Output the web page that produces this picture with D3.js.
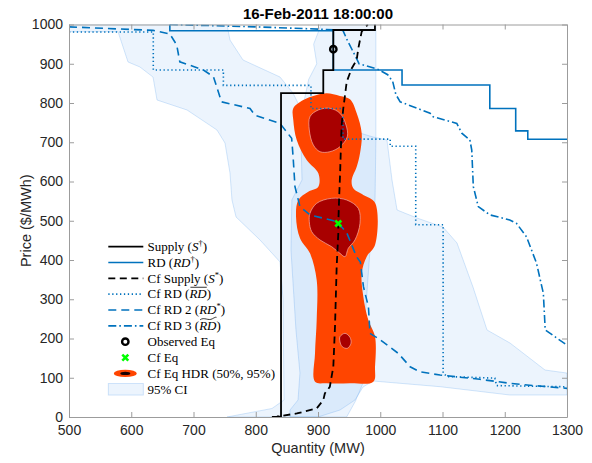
<!DOCTYPE html>
<html><head><meta charset="utf-8">
<script src="https://cdn.jsdelivr.net/npm/d3@7"></script>
<style>body{margin:0;background:#fff}</style>
</head><body>
<svg id="c" width="592" height="463"></svg>
<script>
// ---------------- DATA ----------------
const title = "16-Feb-2011 18:00:00";
const xLabel = "Quantity (MW)";
const yLabel = "Price ($/MWh)";
const xTicks = [500, 600, 700, 800, 900, 1000, 1100, 1200, 1300];
const yTicks = [0, 100, 200, 300, 400, 500, 600, 700, 800, 900, 1000];

// Supply (S†)
const supplyQ = [834, 840.6, 840.6, 908.5, 908.5, 924.6, 924.6, 991.5, 991.5];
const supplyP = [1, 1, 825, 825, 884, 884, 986, 986, 1000];
// RD (RD†)
const rdQ = [662, 662, 924.6, 924.6, 1035, 1035, 1176, 1176, 1217.6, 1217.6, 1237, 1237, 1300];
const rdP = [1000, 984, 984, 884, 884, 846, 846, 786, 786, 729, 729, 707.5, 707.5];
// Cf Supply (S*)
const cfSupplyQ = [826, 834, 866, 898, 908.5, 911, 919, 924.6, 927.3, 930, 932.6, 932.6, 934, 935.5, 936.4, 938, 940.6, 943.4, 946.1, 954.1, 962.2, 964.7, 970.2, 980];
const cfSupplyP = [0, 1, 9, 22, 43, 60, 77, 128, 230, 383, 468, 493, 560, 620, 667, 744, 786, 820, 854, 888, 910, 939, 982, 1000];
// Cf RD (RD bar)
const cfRdQ = [500, 635.4, 635.4, 748, 748, 888.7, 888.7, 940, 940, 1016, 1016, 1057, 1057, 1101, 1101, 1108, 1184, 1187, 1300];
const cfRdP = [981, 981, 884, 884, 845, 845, 786, 786, 708, 708, 690, 690, 490, 490, 111, 103, 99, 80, 77];
// Cf RD 2 (RD*)
const cfRd2Q = [500, 635, 662, 673, 678, 716, 732, 745, 790.8, 798.8, 839, 857.7, 860, 863, 871, 887, 930, 946, 962, 968, 973, 981, 983.5, 997, 1029, 1048, 1064, 1096, 1160, 1208, 1240, 1300];
const cfRd2P = [994, 985, 976, 948, 905, 884, 867, 803, 786, 769, 748, 710, 663, 587, 536, 515, 498, 470, 408, 395, 332, 281, 213, 200, 162, 128, 115, 107, 96, 86, 81, 73];
// Cf RD 3 (RD tilde)
const cfRd3Q = [662, 800, 905, 940, 947, 955, 963, 966, 996, 1012, 1020, 1025, 1032, 1080, 1085, 1123, 1131, 1144, 1147, 1149.5, 1157.5, 1176, 1208, 1219, 1235, 1251, 1262, 1265, 1273, 1300];
const cfRd3P = [1000, 994, 988, 985, 960, 935, 910, 900, 886, 872, 855, 822, 803, 774, 765, 748, 723, 706, 680, 587, 536, 515, 502, 493, 459, 392, 315, 222, 213, 183];
// Equilibria
const obsEqQ = [924.6], obsEqP = [937];
const cfEqQ = [932.6], cfEqP = [493];
// HDR 95% region outline
const hdr95Q = [876.4, 897.9, 914, 935.3, 951.4, 962.2, 970.2, 967.5, 962.2, 954.1, 956.7, 972.8, 991.6, 991.6, 978.2, 970.2, 972.8, 980.8, 991.6, 991.6, 988.9, 951.4, 914, 895.2, 895.2, 897.9, 897.9, 887.1, 871.1, 864.7, 868.4, 884.4, 900.5, 900.5, 881.8, 865.8, 860.3, 860.3];
const hdr95P = [807.6, 820.4, 824.7, 817.8, 809.4, 773.8, 722.8, 671.8, 637.7, 603.8, 582.6, 565.6, 546, 438.2, 408.4, 366.1, 306.5, 247.1, 204.6, 128.2, 89.9, 85.9, 85.9, 89.9, 162.3, 247.1, 349, 417, 455.3, 510.3, 552.9, 574, 586.7, 620.9, 654.8, 705.7, 756.7, 786.5];
// HDR 50% regions
const hdr50aQ = [887.1, 900.5, 919.3, 935.3, 945, 947.1, 935.3, 919.3, 903.2, 892.5, 886];
const hdr50aP = [765.2, 782.2, 786.5, 773.8, 743.9, 714.2, 688.7, 675.9, 675.9, 693, 731.2];
const hdr50bQ = [887.1, 897.9, 922, 946.1, 964.7, 967.5, 959.4, 948.7, 943.4, 935.3, 922, 903.2, 889.9, 886];
const hdr50bP = [519, 544.5, 557.2, 552.9, 531.7, 493.5, 451, 429.8, 408.4, 417, 433.9, 451, 472.1, 497.6];
const hdr50cQ = [935.3, 943.4, 951.4, 953, 947.1, 939, 935.3];
const hdr50cP = [204.6, 213.2, 203, 187.7, 175, 179.1, 191.8];
// 95% CI bands
const ciRdQ = [500, 500, 578.7, 594.8, 614, 635, 641.4, 689.6, 737.7, 750.6, 758.6, 761.8, 768.3, 806.8, 839, 843.8, 845.4, 826.1, 753.8, 900, 935.3, 959.4, 972.3, 988.4, 1096, 1208.4, 1300, 1300, 1264.7, 1229.3, 1208.4, 1171.5, 1149, 1123.3, 1100.8, 1059, 1027, 1018.9, 1010.8, 988.4, 951.4, 871, 859.8, 839, 779.5, 758.6, 753.8];
const ciRdP = [1000, 981.7, 981.7, 904.5, 891.7, 866, 807.6, 782.2, 731.2, 698, 621.7, 552.9, 509.6, 451, 395, 300, 43.3, 21.7, 0, 0, 17.8, 43.3, 76.4, 91.7, 77.2, 56, 56, 112, 119.7, 163, 188.5, 221.7, 331, 443.3, 484, 507, 527.4, 603.8, 705.7, 713.4, 731.2, 789.8, 825.5, 866.2, 909.6, 960.5, 1000];
const ciSQ = [905, 893, 898, 885, 877, 872.7, 874.3, 858, 856.6, 864.6, 871, 867.9, 855, 855, 946, 960, 972.3, 975.5, 983.5, 991.6, 993, 993];
const ciSP = [1000, 950, 900, 860, 800, 706, 604, 553, 425.5, 221.7, 112, 43.3, 17.8, 0, 0, 40, 86.6, 247, 425.5, 552.9, 705.7, 1000];

// legend labels
const legendLabels = [
  [["Supply ("], ["S", "i"], ["\u2020", "sup"], [")"]],
  [["RD ("], ["RD", "i"], ["\u2020", "sup"], [")"]],
  [["Cf Supply ("], ["S", "i"], ["*", "sup"], [")"]],
  [["Cf RD ("], ["RD", "ibar"], [")"]],
  [["Cf RD 2 ("], ["RD", "i"], ["*", "sup"], [")"]],
  [["Cf RD 3 ("], ["RD", "itilde"], [")"]],
  [["Observed Eq"]],
  [["Cf Eq"]],
  [["Cf Eq HDR (50%, 95%)"]],
  [["95% CI"]]
];

// ---------------- DRAW ----------------
const BLUE = "#0072BD";
const svg = d3.select("#c");
svg.append("rect").attr("width", 592).attr("height", 463).attr("fill", "#fff");
const x = d3.scaleLinear().domain([500, 1300]).range([69, 567]);
const y = d3.scaleLinear().domain([0, 1000]).range([417, 24.5]);
const zip = (a, b) => a.map((v, i) => [v, b[i]]);
const line = d3.line().x(d => x(d[0])).y(d => y(d[1]));
const smooth = d3.line().x(d => x(d[0])).y(d => y(d[1])).curve(d3.curveCatmullRomClosed.alpha(0.5));

svg.append("defs").append("clipPath").attr("id", "clip")
  .append("rect").attr("x", x(500)).attr("y", y(1000)).attr("width", x(1300) - x(500)).attr("height", y(0) - y(1000));
const g = svg.append("g").attr("clip-path", "url(#clip)");

// CI bands
[[ciRdQ, ciRdP], [ciSQ, ciSP]].forEach(([q, p]) => {
  g.append("path").attr("d", line(zip(q, p)) + "Z")
    .attr("fill", "#2b86e8").attr("fill-opacity", 0.09)
    .attr("stroke", "#2b86e8").attr("stroke-opacity", 0.22).attr("stroke-width", 0.9);
});

// HDR
g.append("path").attr("d", smooth(zip(hdr95Q, hdr95P))).attr("fill", "#FF4500");
[[hdr50aQ, hdr50aP], [hdr50bQ, hdr50bP], [hdr50cQ, hdr50cP]].forEach(([q, p]) => {
  g.append("path").attr("d", smooth(zip(q, p))).attr("fill", "#A80000")
    .attr("stroke", "#f5b0a8").attr("stroke-width", 0.7);
});

// lines
const styles = [
  {q: cfRdQ, p: cfRdP, c: BLUE, w: 1.6, dash: "1.3,2.6"},
  {q: cfRd2Q, p: cfRd2P, c: BLUE, w: 1.6, dash: "8,5"},
  {q: cfRd3Q, p: cfRd3P, c: BLUE, w: 1.6, dash: "8,3,1.6,3"},
  {q: rdQ, p: rdP, c: BLUE, w: 1.6, dash: null},
  {q: supplyQ, p: supplyP, c: "#000", w: 1.8, dash: null},
  {q: cfSupplyQ, p: cfSupplyP, c: "#000", w: 1.8, dash: "7,4.5"}
];
styles.forEach(s => {
  g.append("path").attr("d", line(zip(s.q, s.p))).attr("fill", "none")
    .attr("stroke", s.c).attr("stroke-width", s.w)
    .attr("stroke-dasharray", s.dash).attr("stroke-linejoin", "miter");
});

// markers
function obsMarker(sel, cx, cy) {
  sel.append("circle").attr("cx", cx).attr("cy", cy).attr("r", 3.2)
    .attr("fill", "none").attr("stroke", "#000").attr("stroke-width", 2.4);
}
function eqMarker(sel, cx, cy) {
  sel.append("path").attr("d", `M${cx-3},${cy-3}L${cx+3},${cy+3}M${cx-3},${cy+3}L${cx+3},${cy-3}`)
    .attr("stroke", "#00ff00").attr("stroke-width", 2.6);
}
obsEqQ.forEach((q, i) => obsMarker(g, x(q), y(obsEqP[i])));
cfEqQ.forEach((q, i) => eqMarker(g, x(q), y(cfEqP[i])));

// axes
const AX = "#9c9c9c", TXT = "#262626";
function styleAxis(a) {
  a.select(".domain").attr("stroke", AX);
  a.selectAll(".tick line").attr("stroke", AX);
  a.selectAll(".tick text").attr("fill", TXT);
  a.attr("font-family", "'Liberation Sans', Arial, sans-serif").attr("font-size", 14);
}
styleAxis(svg.append("g").attr("transform", `translate(0,${y(0)})`)
  .call(d3.axisBottom(x).tickValues(xTicks).tickSizeInner(-5).tickSizeOuter(0).tickPadding(8.5).tickFormat(d3.format("d"))));
styleAxis(svg.append("g").attr("transform", `translate(0,${y(1000)})`)
  .call(d3.axisTop(x).tickValues(xTicks).tickSizeInner(-5).tickSizeOuter(0).tickFormat("")));
styleAxis(svg.append("g").attr("transform", `translate(${x(500)},0)`)
  .call(d3.axisLeft(y).tickValues(yTicks).tickSizeInner(-5).tickSizeOuter(0).tickPadding(6).tickFormat(d3.format("d"))));
styleAxis(svg.append("g").attr("transform", `translate(${x(1300)},0)`)
  .call(d3.axisRight(y).tickValues(yTicks).tickSizeInner(-5).tickSizeOuter(0).tickFormat("")));

// titles
svg.append("text").attr("x", (x(500) + x(1300)) / 2).attr("y", 19).attr("text-anchor", "middle")
  .attr("font-family", "'Liberation Sans', Arial, sans-serif").attr("font-weight", "bold").attr("font-size", 15)
  .attr("fill", "#000").text(title);
svg.append("text").attr("x", (x(500) + x(1300)) / 2).attr("y", 453).attr("text-anchor", "middle")
  .attr("font-family", "'Liberation Sans', Arial, sans-serif").attr("font-size", 14.5)
  .attr("fill", TXT).text(xLabel);
svg.append("text").attr("transform", `translate(31,${(y(0) + y(1000)) / 2}) rotate(-90)`).attr("text-anchor", "middle")
  .attr("font-family", "'Liberation Sans', Arial, sans-serif").attr("font-size", 14.5)
  .attr("fill", TXT).text(yLabel);

// legend
const lg = svg.append("g");
const lx0 = 108.3, lx1 = 143.3, tx = 147.5, ly0 = 246.6, ldy = 15.85;
const symbols = [
  s => s.append("line").attr("stroke", "#000").attr("stroke-width", 1.8),
  s => s.append("line").attr("stroke", BLUE).attr("stroke-width", 1.6),
  s => s.append("line").attr("stroke", "#000").attr("stroke-width", 1.8).attr("stroke-dasharray", "7,4.5"),
  s => s.append("line").attr("stroke", BLUE).attr("stroke-width", 1.6).attr("stroke-dasharray", "1.3,2.6"),
  s => s.append("line").attr("stroke", BLUE).attr("stroke-width", 1.6).attr("stroke-dasharray", "8,5"),
  s => s.append("line").attr("stroke", BLUE).attr("stroke-width", 1.6).attr("stroke-dasharray", "8,3,1.6,3"),
  null, null, null, null
];
legendLabels.forEach((parts, i) => {
  const cy = ly0 + i * ldy;
  if (symbols[i]) symbols[i](lg).attr("x1", lx0).attr("x2", lx1).attr("y1", cy).attr("y2", cy);
  const mx = (lx0 + lx1) / 2 - 0.5;
  if (i === 6) obsMarker(lg, mx, cy);
  if (i === 7) eqMarker(lg, mx, cy);
  if (i === 8) {
    lg.append("ellipse").attr("cx", mx).attr("cy", cy).attr("rx", 11.5).attr("ry", 3.6).attr("fill", "#FF4500");
    lg.append("ellipse").attr("cx", mx).attr("cy", cy).attr("rx", 5).attr("ry", 1.7).attr("fill", "#1a0000");
  }
  if (i === 9) {
    lg.append("rect").attr("x", lx0).attr("y", cy - 5.8).attr("width", lx1 - lx0).attr("height", 11.6)
      .attr("fill", "#2b86e8").attr("fill-opacity", 0.09).attr("stroke", "#2b86e8").attr("stroke-opacity", 0.22).attr("stroke-width", 0.9);
  }
  const t = lg.append("text").attr("x", tx).attr("y", cy + 4.3)
    .attr("font-family", "'Liberation Serif', 'Times New Roman', serif").attr("font-size", 13).attr("fill", "#000");
  let idx = 0, pendingDy = 0; const accents = [];
  parts.forEach(([str, kind]) => {
    const ts = t.append("tspan").text(str);
    if (kind && kind[0] === "i") ts.attr("font-style", "italic");
    if (kind === "sup") { ts.attr("font-size", 8.5).attr("dy", -5); pendingDy = 5; }
    else if (pendingDy) { ts.attr("dy", pendingDy); pendingDy = 0; }
    if (kind === "ibar" || kind === "itilde") accents.push({start: idx, len: str.length, kind});
    idx += str.length;
  });
  accents.forEach(a => {
    const n = t.node();
    const x0 = n.getStartPositionOfChar(a.start).x + 1;
    const x1 = n.getEndPositionOfChar(a.start + a.len - 1).x;
    const by = cy + 4.3 - 11.2;
    if (a.kind === "ibar") {
      lg.append("line").attr("x1", x0).attr("x2", x1).attr("y1", by).attr("y2", by).attr("stroke", "#000").attr("stroke-width", 0.8);
    } else {
      const w = x1 - x0;
      lg.append("path").attr("d", `M${x0},${by + 0.8} C${x0 + w * 0.25},${by - 2.2} ${x0 + w * 0.5},${by + 2.2} ${x0 + w * 0.75},${by - 0.2} S${x1},${by - 1.5} ${x1},${by - 1.5}`)
        .attr("fill", "none").attr("stroke", "#000").attr("stroke-width", 0.8);
    }
  });
});
</script>
</body></html>
